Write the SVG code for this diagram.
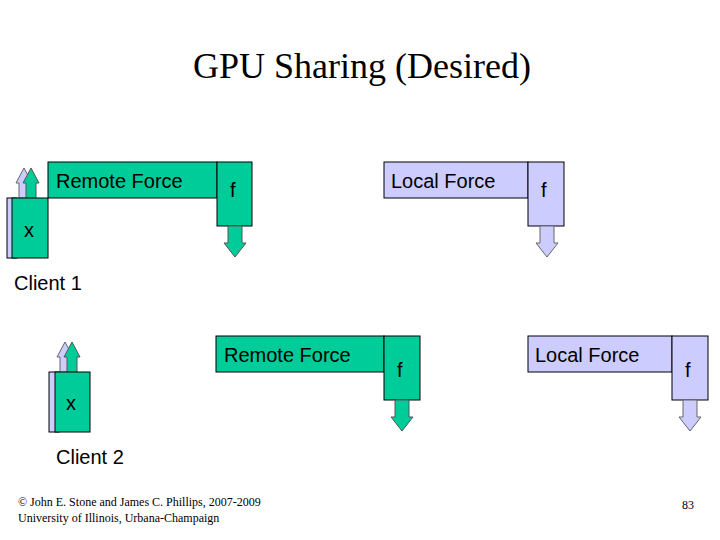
<svg xmlns="http://www.w3.org/2000/svg" width="720" height="540" viewBox="0 0 720 540">
<style>
.g{fill:#00CC99;stroke:#000;stroke-width:1}
.p{fill:#CCCCFF;stroke:#000;stroke-width:1}
.ga{fill:#00CC99;stroke:#555;stroke-width:1}
.pa{fill:#CCCCFF;stroke:#666;stroke-width:1}
.t{font-family:"Liberation Sans",Arial,sans-serif;font-size:20px;fill:#000}
.s{font-family:"Liberation Serif","Times New Roman",serif;fill:#000}
</style>
<defs>
<path id="up" d="M-5,30 V15 H-8 L0,0 L8,15 H5 V30 Z"/>
<path id="down" d="M-7,0 V17 H-11 L0,31 L11,17 H7 V0 Z"/>
</defs>
<rect width="720" height="540" fill="#fff"/>
<text class="s" x="362" y="78" font-size="36" text-anchor="middle">GPU Sharing (Desired)</text>
<g id="client1">
<use href="#up" class="pa" x="24" y="168"/>
<rect class="p" x="7" y="198" width="10" height="60"/>
<use href="#up" class="ga" x="31" y="168"/>
<rect class="g" x="12" y="198" width="36" height="60"/>
<text class="t" x="24" y="237">x</text>
<text class="t" x="14" y="290">Client 1</text>
</g>
<g id="remote1">
<rect class="g" x="48" y="162" width="169" height="36"/>
<rect class="g" x="217" y="162" width="35" height="64"/>
<use href="#down" class="ga" x="235" y="226"/>
<text class="t" x="56" y="188">Remote Force</text>
<text class="t" x="230" y="197">f</text>
</g>
<g id="local1">
<rect class="p" x="384" y="162" width="144" height="36"/>
<rect class="p" x="528" y="162" width="36" height="64"/>
<use href="#down" class="pa" x="547" y="226"/>
<text class="t" x="391" y="188">Local Force</text>
<text class="t" x="541" y="197">f</text>
</g>
<g id="client2">
<use href="#up" class="pa" x="65" y="342"/>
<rect class="p" x="49" y="372" width="10" height="60"/>
<use href="#up" class="ga" x="72" y="342"/>
<rect class="g" x="55" y="372" width="35" height="60"/>
<text class="t" x="66" y="410">x</text>
<text class="t" x="56" y="464">Client 2</text>
</g>
<g id="remote2">
<rect class="g" x="216" y="336" width="168" height="36"/>
<rect class="g" x="384" y="336" width="36" height="64"/>
<use href="#down" class="ga" x="402" y="400"/>
<text class="t" x="224" y="362">Remote Force</text>
<text class="t" x="397" y="377">f</text>
</g>
<g id="local2">
<rect class="p" x="528" y="336" width="144" height="36"/>
<rect class="p" x="672" y="336" width="36" height="64"/>
<use href="#down" class="pa" x="690" y="400"/>
<text class="t" x="535" y="362">Local Force</text>
<text class="t" x="685" y="377">f</text>
</g>
<g id="connectors"/>
<text class="s" x="18" y="506" font-size="12">© John E. Stone and James C. Phillips, 2007-2009</text>
<text class="s" x="18" y="522" font-size="12">University of Illinois, Urbana-Champaign</text>
<text class="s" x="694" y="509" font-size="12" text-anchor="end">83</text>
</svg>
